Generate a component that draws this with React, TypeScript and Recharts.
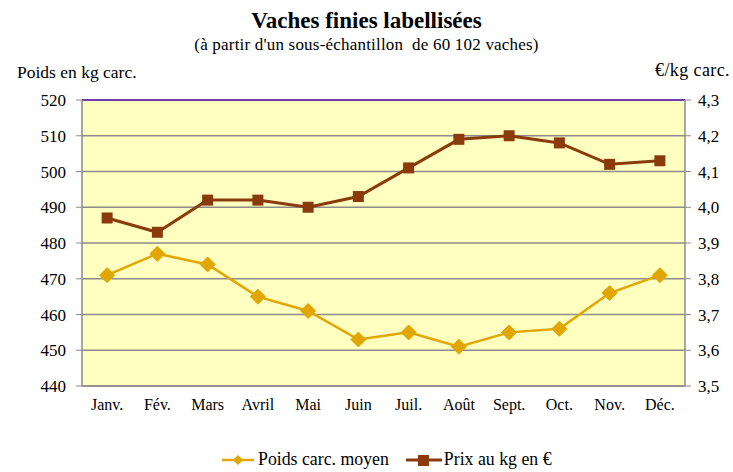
import React from 'react';
import {
  ComposedChart,
  Line,
  XAxis,
  YAxis,
  CartesianGrid,
  ReferenceLine,
} from 'recharts';

const months = ['Janv.', 'Fév.', 'Mars', 'Avril', 'Mai', 'Juin', 'Juil.', 'Août', 'Sept.', 'Oct.', 'Nov.', 'Déc.'];
const poids = [471, 477, 474, 465, 461, 453, 455, 451, 455, 456, 466, 471];
const prix = [3.97, 3.93, 4.02, 4.02, 4.0, 4.03, 4.11, 4.19, 4.2, 4.18, 4.12, 4.13];
const leftTicks = [440, 450, 460, 470, 480, 490, 500, 510, 520];
const rightTicks = [3.5, 3.6, 3.7, 3.8, 3.9, 4.0, 4.1, 4.2, 4.3];
const boundaryTicks = [0, 1, 2, 3, 4, 5, 6, 7, 8, 9, 10, 11, 12];

const data = months.map((m, i) => ({ month: m, poids: poids[i], prix: prix[i] }));

const GOLD = '#E2A600';
const BROWN = '#8A3A0C';
const GRID = '#8C8C8C';
const FONT = '"Liberation Serif", "Times New Roman", serif';

const Diamond = (props: any) => {
  const { cx, cy } = props;
  if (cx == null || cy == null) return null;
  const r = 7.5;
  return (
    <polygon
      points={`${cx},${cy - r} ${cx + r},${cy} ${cx},${cy + r} ${cx - r},${cy}`}
      fill={GOLD}
      stroke={GOLD}
    />
  );
};

const Square = (props: any) => {
  const { cx, cy } = props;
  if (cx == null || cy == null) return null;
  const h = 5.5;
  return <rect x={cx - h} y={cy - h} width={2 * h} height={2 * h} fill={BROWN} />;
};

export default function App() {
  const yTickStyle = { fontFamily: FONT, fontSize: 17, fill: '#000' };
  const xTickStyle = { fontFamily: FONT, fontSize: 16, fill: '#000' };
  return (
    <div style={{ position: 'absolute', left: 0, top: 0, width: 733, height: 472, background: '#fff', fontFamily: FONT }}>
      <div style={{ position: 'absolute', top: 9, left: 0, width: 733, textAlign: 'center', fontSize: 23, lineHeight: 1, fontWeight: 'bold' }}>
        Vaches finies labellisées
      </div>
      <div style={{ position: 'absolute', top: 36, left: 0, width: 733, textAlign: 'center', fontSize: 17, lineHeight: 1, letterSpacing: 0.2 }}>
        (à partir d'un sous-échantillon&nbsp; de 60 102 vaches)
      </div>
      <div style={{ position: 'absolute', top: 64, left: 17, fontSize: 17.5, lineHeight: 1 }}>Poids en kg carc.</div>
      <div style={{ position: 'absolute', top: 61, right: 3, fontSize: 18, lineHeight: 1, letterSpacing: 0.4 }}>€/kg carc.</div>
      <ComposedChart
        width={733}
        height={472}
        data={data}
        margin={{ top: 100, right: 0, left: 0, bottom: 56 }}
      >
        <CartesianGrid horizontal vertical={false} stroke={GRID} strokeWidth={1.3} fill="#FFFFC0" fillOpacity={1} yAxisId="left" />
        <XAxis
          xAxisId="b"
          type="number"
          dataKey={() => 0}
          domain={[0, 12]}
          ticks={boundaryTicks}
          tick={false}
          axisLine={false}
          tickLine={{ stroke: GRID }}
          tickSize={6}
          height={0}
          allowDataOverflow
        />
        <XAxis
          dataKey="month"
          scale="band"
          tick={xTickStyle}
          tickLine={false}
          axisLine={{ stroke: GRID, strokeWidth: 1.3 }}
          tickMargin={7}
          interval={0}
          height={30}
        />
        <YAxis
          yAxisId="left"
          domain={[440, 520]}
          ticks={leftTicks}
          interval={0}
          width={82}
          tick={yTickStyle}
          tickSize={6}
          tickMargin={10}
          axisLine={{ stroke: '#8A8494', strokeWidth: 1.5 }}
          tickLine={{ stroke: GRID }}
        />
        <YAxis
          yAxisId="right"
          orientation="right"
          domain={[3.5, 4.3]}
          ticks={rightTicks}
          interval={0}
          width={48}
          tick={yTickStyle}
          tickSize={6}
          tickMargin={7}
          tickFormatter={(v: number) => v.toFixed(1).replace('.', ',')}
          axisLine={{ stroke: GRID, strokeWidth: 1.5 }}
          tickLine={{ stroke: GRID }}
        />
        <ReferenceLine yAxisId="left" y={520} stroke="#5A18B0" strokeWidth={1.5} />
        <Line
          yAxisId="left"
          type="linear"
          dataKey="poids"
          stroke={GOLD}
          strokeWidth={2.5}
          dot={<Diamond />}
          activeDot={false}
          isAnimationActive={false}
        />
        <Line
          yAxisId="right"
          type="linear"
          dataKey="prix"
          stroke={BROWN}
          strokeWidth={3}
          dot={<Square />}
          activeDot={false}
          isAnimationActive={false}
        />
      </ComposedChart>
      <div style={{ position: 'absolute', top: 451, left: 222, display: 'flex', alignItems: 'center', fontSize: 17.8, lineHeight: 1 }}>
        <svg width={32} height={14} style={{ marginRight: 4 }}>
          <line x1={0} y1={7} x2={32} y2={7} stroke={GOLD} strokeWidth={2.5} />
          <polygon points="16,2 21,7 16,12 11,7" fill={GOLD} />
        </svg>
        <span style={{ marginRight: 17 }}>Poids carc. moyen</span>
        <svg width={36} height={14} style={{ marginRight: 2 }}>
          <line x1={0} y1={7} x2={36} y2={7} stroke={BROWN} strokeWidth={3} />
          <rect x={12} y={2} width={11} height={11} fill={BROWN} />
        </svg>
        <span>Prix au kg en €</span>
      </div>
    </div>
  );
}
